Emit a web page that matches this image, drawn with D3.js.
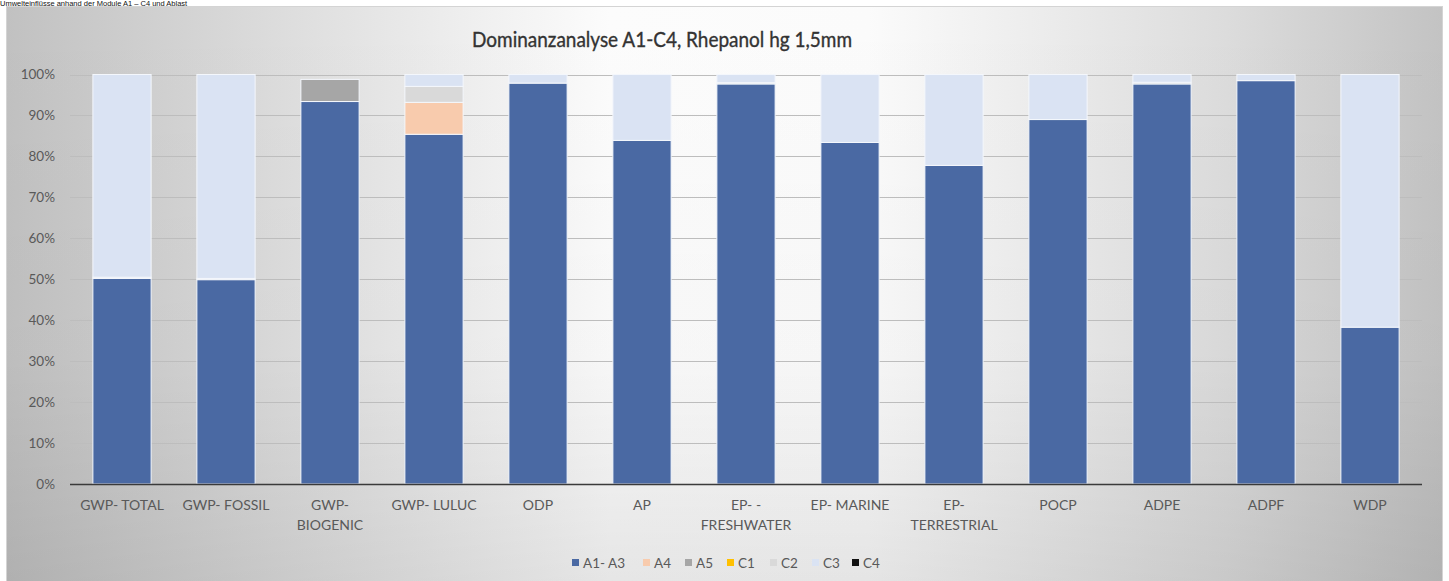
<!DOCTYPE html>
<html>
<head>
<meta charset="utf-8">
<script src="https://cdn.jsdelivr.net/npm/d3@7/dist/d3.min.js"></script>
<style>
  html, body { margin: 0; padding: 0; background: #ffffff; }
  svg { display: block; }
</style>
</head>
<body>
<svg id="chart" width="1449" height="581"></svg>
<script>
// ---- data (percent shares) ----
const categories = [
  ["GWP- TOTAL"], ["GWP- FOSSIL"], ["GWP-", "BIOGENIC"], ["GWP- LULUC"], ["ODP"], ["AP"],
  ["EP- -", "FRESHWATER"], ["EP- MARINE"], ["EP-", "TERRESTRIAL"], ["POCP"], ["ADPE"], ["ADPF"], ["WDP"]
];
const seriesNames = ["A1- A3", "A4", "A5", "C1", "C2", "C3", "C4"];
const seriesColors = ["#4a69a3", "#f8cbad", "#a6a6a6", "#ffc000", "#d9d9d9", "#dae3f3", "#111111"];
const A1_A3 = [50.2, 49.9, 93.4, 85.4, 97.9, 83.9, 97.7, 83.4, 77.8, 89.0, 97.7, 98.5, 38.3];
const A4    = [0,    0,    0,    7.8,  0,    0,    0,    0,    0,    0,    0,    0,    0];
const A5    = [0,    0,    5.4,  0,    0,    0,    0,    0,    0,    0,    0,    0,    0];
const C1    = [0,    0,    0,    0,    0,    0,    0,    0,    0,    0,    0,    0,    0];
const C2    = [0.3,  0.3,  0,    3.9,  0,    0,    0.3,  0,    0,    0,    0.4,  0,    0];
const C3    = [49.5, 49.8, 0,    2.9,  2.1,  16.1, 2.0,  16.6, 22.2, 11.0, 1.9,  1.5,  61.7];
const C4    = [0,    0,    0,    0,    0,    0,    0,    0,    0,    0,    0,    0,    0];
const yTicks = [0, 10, 20, 30, 40, 50, 60, 70, 80, 90, 100];
const titleText = "Dominanzanalyse A1-C4, Rhepanol hg 1,5mm";
const captionText = "Umwelteinflüsse anhand der Module A1 – C4 und Ablast";

const seriesValues = [A1_A3, A4, A5, C1, C2, C3, C4];
const table = categories.map((c, i) => {
  const row = { key: c.join(" ") };
  seriesNames.forEach((s, j) => row[s] = seriesValues[j][i]);
  return row;
});

const svg = d3.select("#chart");
const defs = svg.append("defs");
const lg = defs.append("linearGradient").attr("id", "bg").attr("x1", 0).attr("x2", 1).attr("y1", 0).attr("y2", 0);
[[0, "#c1c1c1"], [0.2, "#dedede"], [0.42, "#fcfcfc"], [0.6, "#fbfbfb"], [0.85, "#dcdcdc"], [1, "#c3c3c3"]]
  .forEach(([o, c]) => lg.append("stop").attr("offset", o).attr("stop-color", c));
const vg = defs.append("linearGradient").attr("id", "shade").attr("x1", 0).attr("x2", 0).attr("y1", 0).attr("y2", 1);
[[0, "rgba(0,0,0,0)"], [0.6, "rgba(0,0,0,0.02)"], [1, "rgba(0,0,0,0.09)"]]
  .forEach(([o, c]) => vg.append("stop").attr("offset", o).attr("stop-color", c));

// caption above the chart frame
svg.append("text").attr("x", 0).attr("y", 6)
  .attr("font-family", "Liberation Sans, Arial, sans-serif").attr("font-size", 7.5)
  .attr("fill", "#111").text(captionText);

// chart frame
svg.append("rect").attr("x", 6.5).attr("y", 6.5).attr("width", 1436).attr("height", 580)
  .attr("fill", "url(#bg)").attr("stroke", "#d4d4d4");
svg.append("rect").attr("x", 7).attr("y", 7).attr("width", 1435).attr("height", 580)
  .attr("fill", "url(#shade)");

// title
svg.append("text").attr("x", 662).attr("y", 47).attr("text-anchor", "middle")
  .attr("font-family", "Lato, 'Open Sans', sans-serif").attr("font-size", 21)
  .attr("fill", "#333333").attr("stroke", "#333333").attr("stroke-width", 0.35)
  .attr("textLength", 380).attr("lengthAdjust", "spacingAndGlyphs")
  .text(titleText);

const x = d3.scaleBand().domain(table.map(d => d.key)).range([70, 1422])
  .paddingInner(0.44).paddingOuter(0.22);
const y = d3.scaleLinear().domain([0, 100]).range([484, 74.5]);

// gridlines
svg.append("g").selectAll("line").data(yTicks.filter(t => t > 0)).join("line")
  .attr("x1", 70).attr("x2", 1422)
  .attr("y1", d => Math.round(y(d)) + 0.5).attr("y2", d => Math.round(y(d)) + 0.5)
  .attr("stroke", "#bdbdbd").attr("stroke-width", 1);

// y axis labels
const yAxis = d3.axisLeft(y).tickValues(yTicks).tickFormat(d => d + "%").tickSize(0).tickPadding(0);
const yg = svg.append("g").attr("transform", "translate(55,0)").call(yAxis);
yg.select(".domain").remove();
yg.selectAll("text").attr("font-family", "Lato, 'Open Sans', sans-serif").attr("font-size", 13.5)
  .attr("fill", "#595959");

// stacked bars
const stack = d3.stack().keys(seriesNames);
const stacked = stack(table);
svg.append("g").selectAll("g").data(stacked).join("g")
  .attr("fill", (d, i) => seriesColors[i])
  .selectAll("rect").data(d => d.filter(p => p[1] - p[0] > 0)).join("rect")
  .attr("x", d => x(d.data.key))
  .attr("width", x.bandwidth())
  .attr("y", d => y(d[1]))
  .attr("height", d => y(d[0]) - y(d[1]))
  .attr("stroke", "#f4f7fc").attr("stroke-width", 1);

// x axis line
svg.append("line").attr("x1", 70).attr("x2", 1422).attr("y1", 484.5).attr("y2", 484.5)
  .attr("stroke", "#3a3a3a").attr("stroke-width", 1.6);

// x labels
const xl = svg.append("g").selectAll("text").data(categories).join("text")
  .attr("x", d => x(d.join(" ")) + x.bandwidth() / 2)
  .attr("y", 510)
  .attr("text-anchor", "middle")
  .attr("font-family", "Lato, 'Open Sans', sans-serif").attr("font-size", 14)
  .attr("fill", "#595959");
xl.selectAll("tspan").data(d => d).join("tspan")
  .attr("x", function () { return d3.select(this.parentNode).attr("x"); })
  .attr("dy", (d, i) => i === 0 ? 0 : 20)
  .text(d => d);

// legend
const legendX = [572, 643, 685, 727, 770, 812, 852];
const lgG = svg.append("g");
seriesNames.forEach((s, i) => {
  lgG.append("rect").attr("x", legendX[i]).attr("y", 559).attr("width", 7).attr("height", 7)
    .attr("fill", seriesColors[i]);
  lgG.append("text").attr("x", legendX[i] + 11).attr("y", 567.5)
    .attr("font-family", "Lato, 'Open Sans', sans-serif").attr("font-size", 13.5)
    .attr("fill", "#595959").text(s);
});
</script>
</body>
</html>
